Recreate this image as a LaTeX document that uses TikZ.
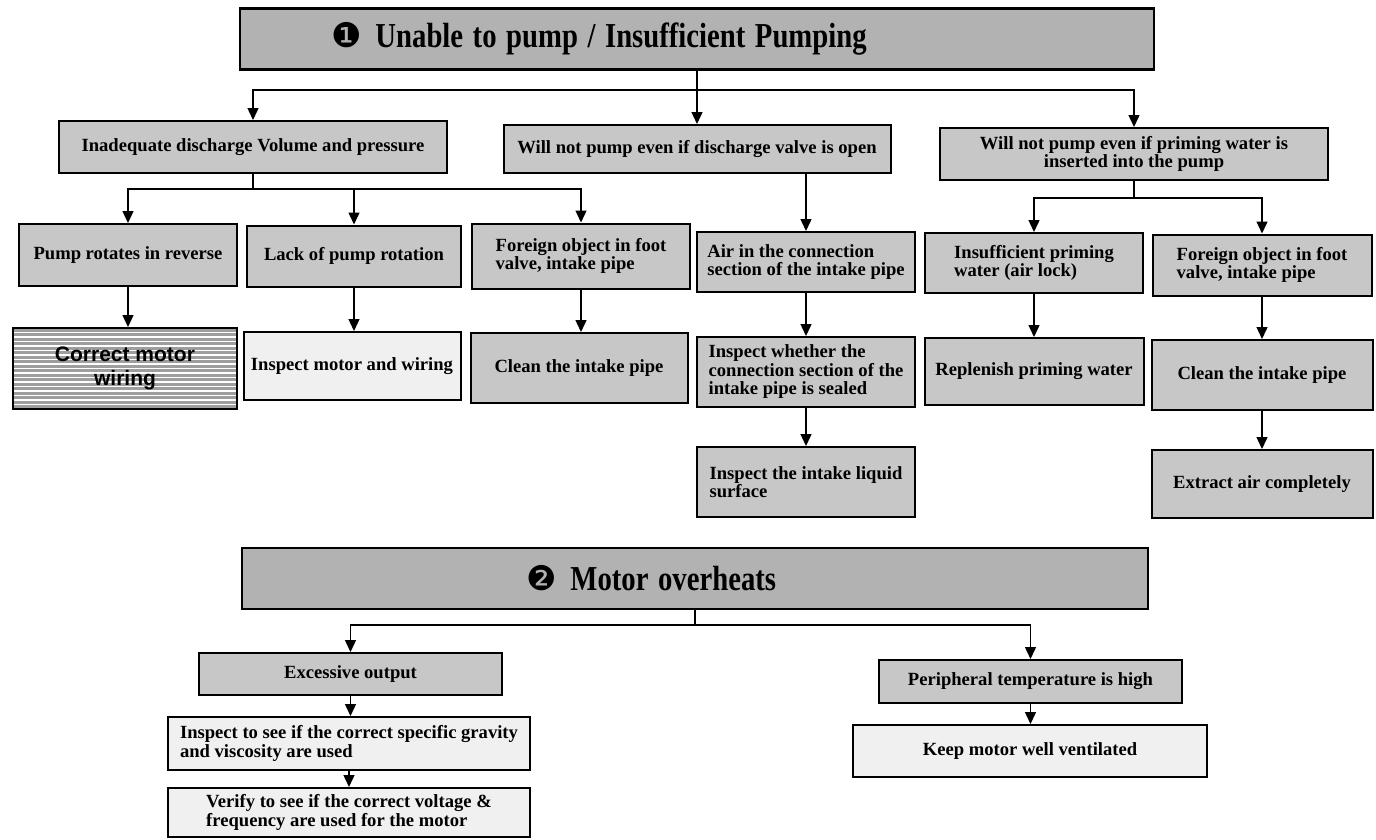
\documentclass[tikz,border=0pt]{standalone}
\usepackage{fontspec}
\setmainfont{Liberation Serif}
\setsansfont{Liberation Sans}
\newfontfamily\dingfont{DejaVu Sans}
\usetikzlibrary{arrows.meta}

\definecolor{titlegray}{gray}{0.7}
\definecolor{boxgray}{gray}{0.78}
\definecolor{palegray}{gray}{0.94}
\definecolor{stripegray}{gray}{0.62}

\tikzset{
  headbox/.style={draw, line width=2.8pt, fill=titlegray, inner sep=0pt,
    minimum height=61pt, align=left,
    font=\bfseries\fontsize{35}{35}\selectfont},
  causebox/.style={draw, line width=2pt, fill=boxgray, inner sep=0pt,
    align=center, font=\bfseries\fontsize{18.6}{18.5}\selectfont},
  fixbox/.style={causebox, fill=palegray},
  wirebox/.style={causebox, fill=stripegray,
    path picture={
      \foreach \k in {1,...,18}
        \draw[white, line width=1.1pt]
          ([yshift=-\k*4.5pt]path picture bounding box.north west) -- ++(240pt,0);
    },
    font=\sffamily\bfseries\fontsize{21}{24}\selectfont},
  arr/.style={-{Triangle[length=12pt, width=11pt]}, line width=1.4pt},
  link/.style={line width=1.4pt}
}
\newcommand{\bulletone}{{\dingfont\mdseries\fontsize{34}{34}\selectfont ❶}}
\newcommand{\bullettwo}{{\dingfont\mdseries\fontsize{34}{34}\selectfont ❷}}
\newcommand{\headtext}[1]{\scalebox{0.82}[1]{#1}}

\begin{document}
\begin{tikzpicture}[x=1pt, y=-1pt]
  \useasboundingbox (0,0) rectangle (1376,839);

  % unable to pump
  \node[headbox, text width=914pt] (t1) at (697,39)
    {\hspace*{91pt}\bulletone\hspace{14pt}\headtext{Unable to pump / Insufficient Pumping}};
  \node[causebox, minimum width=388pt, minimum height=52pt] (a) at (253,147)
    {Inadequate discharge Volume and pressure};
  \node[causebox, minimum width=387pt, minimum height=48pt] (b) at (697,149)
    {Will not pump even if discharge valve is open};
  \node[causebox, minimum width=388pt, minimum height=52pt] (c) at (1134,154)
    {Will not pump even if priming water is\\inserted into the pump};
  \coordinate (h1) at (697,90);
  \draw[link] (t1) -- (h1);
  \draw[arr] (h1) -| (a);
  \draw[arr] (h1) -- (b);
  \draw[arr] (h1) -| (c);

  \node[causebox, minimum width=218pt, minimum height=62pt] (a1) at (128,255)
    {Pump rotates in reverse};
  \node[causebox, minimum width=214pt, minimum height=61pt] (a2) at (354,256)
    {Lack of pump rotation};
  \node[causebox, align=left, minimum width=218pt, minimum height=65pt] (a3) at (581,256)
    {Foreign object in foot\\valve, intake pipe};
  \coordinate (ha) at (253,189);
  \draw[link] (a) -- (ha);
  \draw[arr] (ha) -| (a1);
  \draw[arr] (ha) -| (a2);
  \draw[arr] (ha) -| (a3);

  \node[causebox, align=left, minimum width=218pt, minimum height=60pt] (b1) at (806,262)
    {Air in the connection\\section of the intake pipe};
  \draw[arr] (b1 |- b.south) -- (b1);

  \node[causebox, align=left, minimum width=218pt, minimum height=60pt] (c1) at (1034,263)
    {Insufficient priming\\water (air lock)};
  \node[causebox, align=left, minimum width=219pt, minimum height=61pt] (c2) at (1262,265)
    {Foreign object in foot\\valve, intake pipe};
  \coordinate (hc) at (1134,198);
  \draw[link] (c) -- (hc);
  \draw[arr] (hc) -| (c1);
  \draw[arr] (hc) -| (c2);

  \node[wirebox, minimum width=224pt, minimum height=81pt] (w1) at (125,368.5)
    {Correct motor\\wiring};
  \node[fixbox, minimum width=217pt, minimum height=68pt] (w2) at (352,366)
    {Inspect motor and wiring};
  \node[causebox, minimum width=217pt, minimum height=70pt] (w3) at (579,368)
    {Clean the intake pipe};
  \node[causebox, align=left, minimum width=218pt, minimum height=70pt] (b2) at (806,372)
    {Inspect whether the\\connection section of the\\intake pipe is sealed};
  \node[causebox, align=left, minimum width=218pt, minimum height=70pt] (b3) at (806,482)
    {Inspect the intake liquid\\surface};
  \node[causebox, minimum width=219pt, minimum height=67pt] (c3) at (1034,371.5)
    {Replenish priming water};
  \node[causebox, minimum width=221pt, minimum height=70pt] (c4) at (1262,375)
    {Clean the intake pipe};
  \node[causebox, minimum width=221pt, minimum height=68pt] (c5) at (1262,484)
    {Extract air completely};
  \draw[arr] (a1) -- (a1 |- w1.north);
  \draw[arr] (a2) -- (a2 |- w2.north);
  \draw[arr] (a3) -- (a3 |- w3.north);
  \draw[arr] (b1) -- (b2);
  \draw[arr] (b2) -- (b3);
  \draw[arr] (c1) -- (c3);
  \draw[arr] (c2) -- (c4);
  \draw[arr] (c4) -- (c5);

  % motor overheats
  \node[headbox, text width=906pt] (t2) at (695,578.5)
    {\hspace*{284pt}\bullettwo\hspace{14pt}\headtext{Motor overheats}};
  \node[causebox, minimum width=303pt, minimum height=42pt] (d) at (350.5,674)
    {Excessive output};
  \node[causebox, minimum width=303pt, minimum height=43pt] (e) at (1030.5,681.5)
    {Peripheral temperature is high};
  \coordinate (h2) at (695,625);
  \draw[link] (t2) -- (h2);
  \draw[arr] (h2) -| (d);
  \draw[arr] (h2) -| (e);

  \node[fixbox, align=left, minimum width=362pt, minimum height=53pt] (d1) at (349,743.5)
    {Inspect to see if the correct specific gravity\\and viscosity are used};
  \node[fixbox, align=left, minimum width=362pt, minimum height=49pt] (d2) at (349,812.5)
    {Verify to see if the correct voltage \&\\frequency are used for the motor};
  \node[fixbox, minimum width=354pt, minimum height=52pt] (e1) at (1030,751)
    {Keep motor well ventilated};
  \draw[arr] (d) -- (d |- d1.north);
  \draw[arr] (d1) -- (d2);
  \draw[arr] (e) -- (e |- e1.north);
\end{tikzpicture}
\end{document}
